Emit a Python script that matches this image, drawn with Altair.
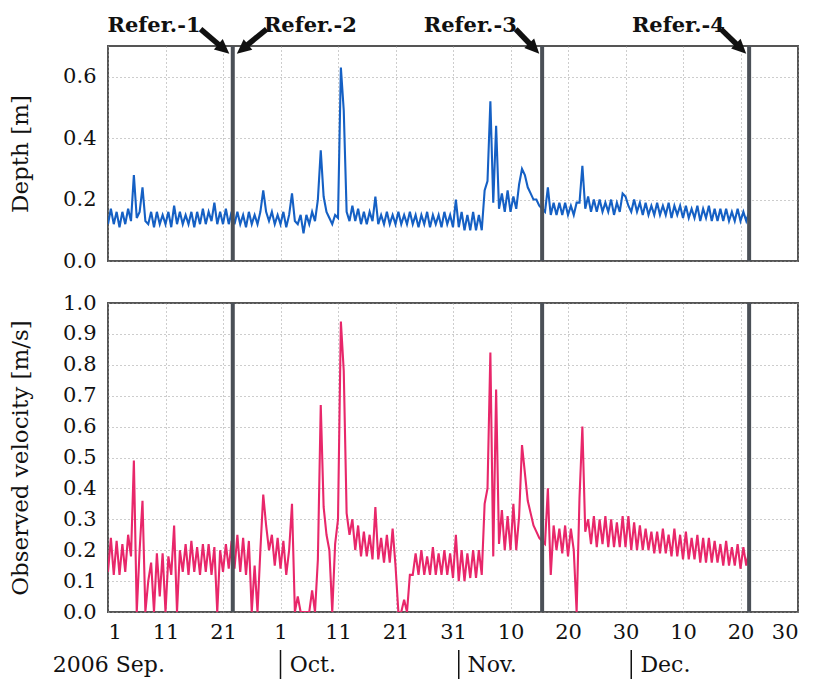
import math
import altair as alt
import pandas as pd

# ---------------- data (half-day samples, day 0 = 2006-09-01) ----------------
SAMPLE_STEP = 0.5
DEPTH = [
    0.12, 0.17, 0.12, 0.16, 0.11, 0.16, 0.12, 0.17, 0.13, 0.28,   # d0-4
    0.14, 0.16, 0.24, 0.13, 0.12, 0.16, 0.11, 0.16, 0.12, 0.15,   # d5-9
    0.12, 0.16, 0.11, 0.18, 0.12, 0.16, 0.12, 0.15, 0.12, 0.16,   # d10-14
    0.11, 0.16, 0.12, 0.17, 0.12, 0.16, 0.13, 0.19, 0.12, 0.16,   # d15-19
    0.12, 0.17, 0.12, 0.16, 0.12, 0.16, 0.12, 0.15, 0.11, 0.16,   # d20-24
    0.12, 0.15, 0.12, 0.16, 0.23, 0.16, 0.13, 0.16, 0.12, 0.15,   # d25-29
    0.12, 0.16, 0.11, 0.15, 0.22, 0.13, 0.12, 0.15, 0.09, 0.15,   # d30-34
    0.12, 0.16, 0.13, 0.20, 0.36, 0.21, 0.16, 0.14, 0.12, 0.15,   # d35-39
    0.14, 0.63, 0.49, 0.16, 0.13, 0.18, 0.13, 0.17, 0.12, 0.16,   # d40-44
    0.12, 0.16, 0.13, 0.21, 0.12, 0.15, 0.12, 0.16, 0.12, 0.15,   # d45-49
    0.12, 0.16, 0.12, 0.15, 0.12, 0.16, 0.12, 0.15, 0.11, 0.15,   # d50-54
    0.12, 0.16, 0.11, 0.15, 0.12, 0.15, 0.11, 0.16, 0.12, 0.15,   # d55-59
    0.11, 0.20, 0.11, 0.16, 0.10, 0.15, 0.10, 0.16, 0.10, 0.15,   # d60-64
    0.10, 0.23, 0.26, 0.52, 0.19, 0.44, 0.17, 0.22, 0.16, 0.23,   # d65-69
    0.16, 0.21, 0.17, 0.25, 0.30, 0.28, 0.24, 0.22, 0.20, 0.20,   # d70-74
    0.18, 0.17, 0.16, 0.24, 0.15, 0.19, 0.15, 0.19, 0.15, 0.19,   # d75-79
    0.15, 0.18, 0.15, 0.19, 0.19, 0.31, 0.17, 0.21, 0.16, 0.20,   # d80-84
    0.16, 0.20, 0.16, 0.19, 0.16, 0.20, 0.15, 0.19, 0.16, 0.22,   # d85-89
    0.21, 0.18, 0.16, 0.20, 0.16, 0.19, 0.15, 0.19, 0.15, 0.18,   # d90-94
    0.15, 0.19, 0.15, 0.18, 0.15, 0.19, 0.14, 0.18, 0.15, 0.18,   # d95-99
    0.14, 0.18, 0.14, 0.17, 0.14, 0.18, 0.13, 0.17, 0.14, 0.18,   # d100-104
    0.13, 0.17, 0.13, 0.17, 0.13, 0.17, 0.13, 0.16, 0.13, 0.17,   # d105-109
    0.13, 0.16, 0.13, 0.16,                                       # d110-111
]
VELOCITY = [
    0.13, 0.24, 0.12, 0.23, 0.12, 0.22, 0.13, 0.25, 0.18, 0.49,   # d0-4
    0.00, 0.20, 0.36, 0.00, 0.10, 0.16, 0.00, 0.19, 0.05, 0.19,   # d5-9
    0.00, 0.18, 0.12, 0.28, 0.00, 0.20, 0.13, 0.22, 0.12, 0.23,   # d10-14
    0.13, 0.21, 0.12, 0.22, 0.13, 0.22, 0.12, 0.21, 0.00, 0.20,   # d15-19
    0.13, 0.22, 0.14, 0.23, 0.14, 0.25, 0.13, 0.24, 0.12, 0.23,   # d20-24
    0.00, 0.15, 0.00, 0.20, 0.38, 0.28, 0.20, 0.25, 0.15, 0.24,   # d25-29
    0.14, 0.23, 0.12, 0.20, 0.35, 0.00, 0.05, 0.00, 0.00, 0.00,   # d30-34
    0.00, 0.07, 0.00, 0.17, 0.67, 0.34, 0.25, 0.20, 0.00, 0.22,   # d35-39
    0.30, 0.94, 0.78, 0.32, 0.25, 0.30, 0.20, 0.28, 0.18, 0.26,   # d40-44
    0.18, 0.25, 0.17, 0.34, 0.17, 0.24, 0.16, 0.25, 0.16, 0.27,   # d45-49
    0.15, 0.00, 0.00, 0.04, 0.00, 0.12, 0.12, 0.19, 0.12, 0.20,   # d50-54
    0.12, 0.18, 0.12, 0.21, 0.12, 0.19, 0.12, 0.20, 0.12, 0.19,   # d55-59
    0.11, 0.25, 0.10, 0.20, 0.10, 0.19, 0.11, 0.20, 0.11, 0.20,   # d60-64
    0.12, 0.35, 0.40, 0.84, 0.18, 0.72, 0.22, 0.33, 0.20, 0.31,   # d65-69
    0.20, 0.35, 0.20, 0.31, 0.54, 0.45, 0.36, 0.32, 0.28, 0.26,   # d70-74
    0.24, 0.23, 0.22, 0.40, 0.12, 0.28, 0.20, 0.27, 0.19, 0.28,   # d75-79
    0.18, 0.27, 0.20, 0.00, 0.37, 0.60, 0.26, 0.30, 0.22, 0.31,   # d80-84
    0.21, 0.30, 0.22, 0.31, 0.21, 0.30, 0.21, 0.29, 0.21, 0.31,   # d85-89
    0.21, 0.31, 0.20, 0.29, 0.20, 0.28, 0.20, 0.27, 0.20, 0.26,   # d90-94
    0.19, 0.26, 0.19, 0.27, 0.19, 0.25, 0.18, 0.27, 0.18, 0.25,   # d95-99
    0.17, 0.26, 0.17, 0.24, 0.17, 0.25, 0.16, 0.24, 0.16, 0.24,   # d100-104
    0.16, 0.23, 0.16, 0.22, 0.15, 0.23, 0.15, 0.21, 0.15, 0.22,   # d105-109
    0.14, 0.21, 0.15, 0.20,                                       # d110-111
]

TICK_DAYS = list(range(0, 121, 10))
TICK_LABELS = ["1", "11", "21", "1", "11", "21", "31", "10", "20", "30", "10", "20", "30"]
DEPTH_TICKS = [0.0, 0.1, 0.2, 0.3, 0.4, 0.5, 0.6, 0.7]
VEL_TICKS = [0.0, 0.1, 0.2, 0.3, 0.4, 0.5, 0.6, 0.7, 0.8, 0.9, 1.0]

REF_DAYS = [21.7, 75.5, 111.5]
REF_NAMES = ["Refer.-1", "Refer.-2", "Refer.-3", "Refer.-4"]
REF_LABEL_DAY = [8.0, 35.2, 63.0, 99.2]
ARROW_TAIL_DAY = [16.1, 27.6, 70.9, 106.6]
ARROW_TIP_DAY = [21.1, 22.4, 75.0, 111.0]
ARROW_TAIL_Y = 0.755
ARROW_TIP_Y = 0.675
LABEL_Y = 0.746

MONTH_NAMES = ["2006 Sep.", "Oct.", "Nov.", "Dec."]
MONTH_START = [0, 30, 61, 91]
MONTH_TEXT_DAY = [-9.6, 31.6, 62.5, 92.6]

# ---------------- layout ----------------
W, H_TOP, H_BOT = 690, 215, 309
FONT = "DejaVu Serif"
BLUE = "#1560c4"
PINK = "#e8276a"
REF_COLOR = "#4b5057"

px_day = W / 120.0
px_depth = H_TOP / 0.7

df_depth = pd.DataFrame({"t": [i * SAMPLE_STEP for i in range(len(DEPTH))], "v": DEPTH})
df_vel = pd.DataFrame({"t": [i * SAMPLE_STEP for i in range(len(VELOCITY))], "v": VELOCITY})
df_ref = pd.DataFrame({"t": REF_DAYS})

# arrows
rows = []
for name, ld, tail, tip in zip(REF_NAMES, REF_LABEL_DAY, ARROW_TAIL_DAY, ARROW_TIP_DAY):
    dx = (tip - tail) * px_day
    dy = (ARROW_TAIL_Y - ARROW_TIP_Y) * px_depth
    L = math.hypot(dx, dy)
    ux, uy = dx / L, dy / L
    back = 11.0
    rows.append({
        "name": name, "ld": ld, "ly": LABEL_Y,
        "x0": tail, "y0": ARROW_TAIL_Y,
        "x1": tip - back * ux / px_day, "y1": ARROW_TIP_Y + back * uy / px_depth,
        "xt": tip, "yt": ARROW_TIP_Y,
        "ang": (math.degrees(math.atan2(-ux, uy)) + 360) % 360,
    })
df_arrow = pd.DataFrame(rows)

df_month = pd.DataFrame({"name": MONTH_NAMES, "start": MONTH_START, "tx": MONTH_TEXT_DAY})

label_expr = "[" + ",".join("'%s'" % s for s in TICK_LABELS) + "][round(datum.value/10)]"

xscale = alt.Scale(domain=[0, 120], nice=False, zero=False)

x_top = alt.X("t:Q", scale=xscale, axis=alt.Axis(values=TICK_DAYS, labels=False, ticks=False,
                                                  domain=False, title=None, grid=True))
x_bot = alt.X("t:Q", scale=xscale, axis=alt.Axis(values=TICK_DAYS, labelExpr=label_expr, ticks=False,
                                                  domain=False, title=None, grid=True, labelPadding=9,
                                                  labelOverlap=False))

y_top = alt.Y("v:Q", scale=alt.Scale(domain=[0, 0.7], nice=False),
              axis=alt.Axis(values=DEPTH_TICKS, format=".1f", title="Depth [m]", ticks=False,
                            domain=False, grid=True, labelPadding=12, titlePadding=30,
                            labelOverlap=False))
y_bot = alt.Y("v:Q", scale=alt.Scale(domain=[0, 1.0], nice=False),
              axis=alt.Axis(values=VEL_TICKS, format=".1f", title="Observed velocity [m/s]", ticks=False,
                            domain=False, grid=True, labelPadding=12, titlePadding=30,
                            labelOverlap=False))

depth_line = alt.Chart(df_depth).mark_line(color=BLUE, strokeWidth=2.1, clip=True).encode(x=x_top, y=y_top)
ref_top = alt.Chart(df_ref).mark_rule(color=REF_COLOR, strokeWidth=4).encode(x="t:Q")
labels = alt.Chart(df_arrow).mark_text(font=FONT, fontWeight="bold", fontSize=21, baseline="alphabetic",
                                       color="#111").encode(x=alt.X("ld:Q"), y=alt.Y("ly:Q"), text="name:N")
shafts = alt.Chart(df_arrow).mark_rule(color="#111", strokeWidth=5.5).encode(
    x="x0:Q", y="y0:Q", x2="x1:Q", y2="y1:Q")
heads = alt.Chart(df_arrow).mark_point(shape="M0,0L-0.8,-1.7L0.8,-1.7Z", filled=True, size=290,
                                       color="#111", opacity=1).encode(
    x="xt:Q", y="yt:Q", angle=alt.Angle("ang:Q", scale=None))

top = alt.layer(depth_line, ref_top, shafts, heads, labels).properties(width=W, height=H_TOP)

vel_line = alt.Chart(df_vel).mark_line(color=PINK, strokeWidth=2.1, clip=True).encode(x=x_bot, y=y_bot)
ref_bot = alt.Chart(df_ref).mark_rule(color=REF_COLOR, strokeWidth=4).encode(x="t:Q")
month_text = alt.Chart(df_month).mark_text(font=FONT, fontSize=22, align="left", baseline="middle",
                                           color="#111").encode(
    x=alt.X("tx:Q"), y=alt.value(H_BOT + 53), text="name:N")
month_bar = alt.Chart(df_month[df_month["start"] > 0]).mark_rule(color="#111", strokeWidth=1.5).encode(
    x=alt.X("start:Q"), y=alt.value(H_BOT + 38), y2=alt.value(H_BOT + 67))

bottom = alt.layer(vel_line, ref_bot, month_bar, month_text).properties(width=W, height=H_BOT)

chart = alt.vconcat(top, bottom, spacing=19).properties(
    padding={"top": 5, "left": 0, "right": 0, "bottom": 0}
).configure_view(
    stroke="#555555", strokeWidth=2
).configure_axis(
    labelFont=FONT, labelFontSize=21, labelColor="#111", titleFont=FONT, titleFontSize=23,
    titleFontWeight="normal", titleColor="#111", gridColor="#9a9a9a", gridDash=[1, 3], gridWidth=1
).configure_concat(spacing=19)

chart.save("out.html", embed_options={"renderer": "svg", "actions": False})
